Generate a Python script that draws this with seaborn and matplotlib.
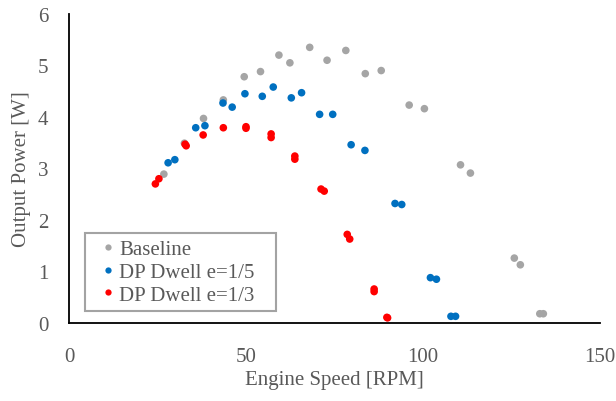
import matplotlib
matplotlib.use("Agg")
import matplotlib.pyplot as plt
import seaborn as sns
import pandas as pd
from matplotlib.lines import Line2D

baseline_x = [26.8, 32.6, 38.0, 43.6, 49.5, 54.1, 59.3, 62.4, 68.0, 72.9, 78.2, 83.7, 88.2,
              96.1, 100.4, 110.6, 113.4, 125.8, 127.5, 133.0, 134.0]
baseline_y = [2.89, 3.49, 3.97, 4.33, 4.78, 4.88, 5.20, 5.05, 5.35, 5.10, 5.29, 4.84, 4.90,
              4.23, 4.16, 3.07, 2.91, 1.26, 1.13, 0.18, 0.18]

dp5_x = [28.0, 29.9, 35.8, 38.4, 43.5, 46.1, 49.7, 54.6, 57.7, 62.8, 65.7, 70.8, 74.5,
         79.7, 83.6, 92.1, 94.0, 102.1, 103.8, 107.9, 109.2]
dp5_y = [3.11, 3.17, 3.79, 3.83, 4.27, 4.19, 4.45, 4.40, 4.58, 4.37, 4.47, 4.05, 4.05,
         3.46, 3.35, 2.32, 2.30, 0.88, 0.85, 0.13, 0.13]

dp3_x = [24.4, 25.4, 32.8, 33.1, 37.9, 43.6, 50.0, 50.0, 57.1, 57.1, 63.8, 63.8, 71.2, 72.1,
         78.6, 79.3, 86.2, 86.2, 89.8, 90.0]
dp3_y = [2.70, 2.80, 3.47, 3.44, 3.65, 3.79, 3.81, 3.78, 3.67, 3.60, 3.24, 3.18, 2.60, 2.56,
         1.72, 1.63, 0.66, 0.61, 0.11, 0.10]

series_names = ["Baseline", "DP Dwell e=1/5", "DP Dwell e=1/3"]
colors = ["#A5A5A5", "#0070C0", "#FF0000"]

df = pd.concat([
    pd.DataFrame({"x": baseline_x, "y": baseline_y, "series": series_names[0]}),
    pd.DataFrame({"x": dp5_x, "y": dp5_y, "series": series_names[1]}),
    pd.DataFrame({"x": dp3_x, "y": dp3_y, "series": series_names[2]}),
], ignore_index=True)

sns.set_style("white")
plt.rcParams["font.family"] = ["Liberation Serif", "DejaVu Serif"]

fig = plt.figure(figsize=(6.16, 4.02), dpi=100)
ax = fig.add_axes([0.112, 0.194, 0.862, 0.769])

sns.scatterplot(data=df, x="x", y="y", hue="series", hue_order=series_names,
                palette=colors, s=30, linewidth=0, ax=ax, legend=False, zorder=3)

ax.set_xlim(0, 150)
ax.set_ylim(0, 6)
ax.set_xticks([0, 50, 100, 150])
ax.set_yticks([0, 1, 2, 3, 4, 5, 6])
ax.tick_params(axis="both", length=0, labelsize=15, labelcolor="#595959")
ax.tick_params(axis="x", pad=17)
ax.tick_params(axis="y", pad=15)
ax.set_xlabel("Engine Speed [RPM]", fontsize=15, color="#595959", labelpad=3)
ax.set_ylabel("Output Power [W]", fontsize=15, color="#595959", labelpad=5)

for side in ["top", "right"]:
    ax.spines[side].set_visible(False)
for side in ["left", "bottom"]:
    ax.spines[side].set_color("black")
    ax.spines[side].set_linewidth(1.3)

handles = [Line2D([0], [0], marker="o", linestyle="", markersize=4.5,
                  markerfacecolor=c, markeredgewidth=0) for c in colors]
leg = ax.legend(handles, series_names, loc="lower left",
                bbox_to_anchor=(0.03, 0.039, 0.36, 0.256), mode="expand",
                borderaxespad=0, fontsize=15, frameon=True, fancybox=False,
                handlelength=1.6, handletextpad=-0.25, labelspacing=0.15,
                borderpad=0.3, labelcolor="#595959")
leg.get_frame().set_edgecolor("#8c8c8c")
leg.get_frame().set_linewidth(1.5)

fig.savefig("out.png", dpi=100)
